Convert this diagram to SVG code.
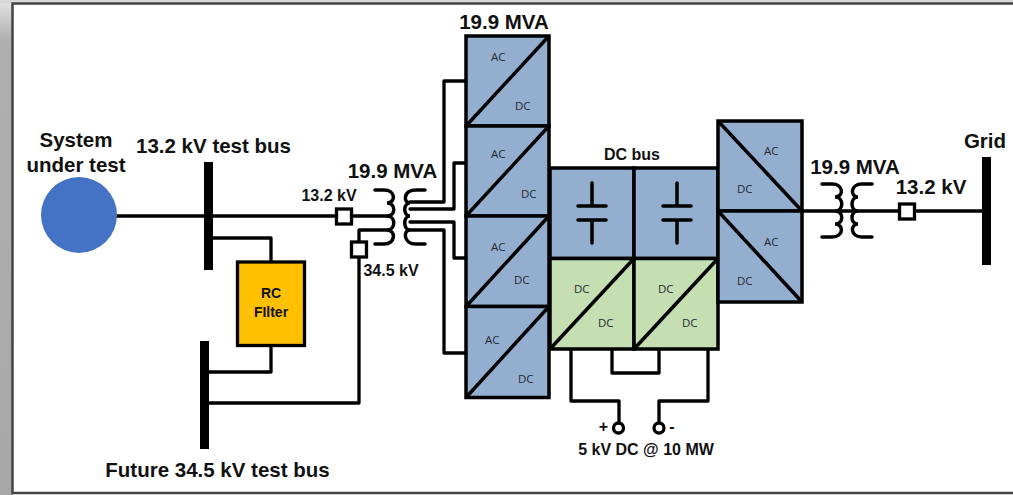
<svg xmlns="http://www.w3.org/2000/svg" width="1013" height="495" viewBox="0 0 1013 495">
<defs>
<linearGradient id="shade" x1="0" x2="0" y1="0" y2="1"><stop offset="0" stop-color="#e4e4e4"/><stop offset="0.08" stop-color="#b0b0b0"/><stop offset="1" stop-color="#a8a8a8"/></linearGradient>
</defs>
<style>
text{font-family:"Liberation Sans",Arial,sans-serif;fill:#111}
.t{font-weight:700;font-size:20.5px}
.m{font-weight:700;font-size:16px}
.s{font-family:"Open Sans","Liberation Sans",sans-serif;font-size:11.5px;fill:#1f2a36}
.w{fill:none;stroke:#000;stroke-width:3.300;stroke-linejoin:round;stroke-linecap:round}
.b{fill:#94aecf;stroke:#000;stroke-width:3.500}
.g{fill:#c5dfb3;stroke:#000;stroke-width:3.500}
.d{stroke:#000;stroke-width:3.500;fill:none}
.c{fill:none;stroke:#000;stroke-width:3.500;stroke-linecap:round}
.sq{fill:#fff;stroke:#000;stroke-width:3.300}
</style>
<rect width="13" height="495" fill="url(#shade)"/>
<rect x="0" y="0" width="1013" height="3" fill="#d8d8d8"/>
<rect x="12.500" y="3.500" width="1002" height="489.500" fill="#fff" stroke="#444" stroke-width="2.500"/>
<g id="connectors">
<path class="w" d="M117 216H388"/>
<path class="w" d="M208 238H271V262"/>
<path class="w" d="M271 345V372H208"/>
<path class="w" d="M208 403H359V230H388"/>
<path class="w" d="M410 202H444V81H466"/>
<path class="w" d="M410 209H454V163H466"/>
<path class="w" d="M410 222H454V258H466"/>
<path class="w" d="M410 230H444V353H466"/>
<path class="w" d="M800 211H985"/>
<path class="w" d="M571 349V401H619V423"/>
<path class="w" d="M612 349V373H659V349"/>
<path class="w" d="M708 349V401H659V423"/>
</g>
<g id="source"><circle cx="79" cy="215" r="38" fill="#4472c4"/><text class="t" x="76" y="147" text-anchor="middle">System</text><text class="t" x="76" y="172" text-anchor="middle">under test</text></g>
<g id="bus-132"><rect x="204" y="162" width="9" height="108" fill="#000"/><text class="t" x="213.500" y="153" text-anchor="middle">13.2 kV test bus</text></g>
<g id="bus-345"><rect x="200" y="341" width="9" height="108" fill="#000"/><text class="t" x="217.500" y="477" text-anchor="middle">Future 34.5 kV test bus</text></g>
<g id="rc-filter"><rect x="237.500" y="262" width="67" height="83.500" fill="#ffc000" stroke="#000" stroke-width="3.300"/><text class="m" style="font-size:14px" x="271" y="298" text-anchor="middle">RC</text><text class="m" style="font-size:14px" x="271" y="317" text-anchor="middle">FIlter</text></g>
<g id="switch-132"><rect class="sq" x="336.500" y="209" width="15" height="15"/><text class="m" x="329" y="201" text-anchor="middle">13.2 kV</text></g>
<g id="switch-345"><rect class="sq" x="351.500" y="242" width="15" height="15"/><text class="m" x="391" y="276" text-anchor="middle">34.5 kV</text></g>
<g id="transformer-left">
<path class="c" d="M375 190H384C396 190 396 203 387 203C396 203 396 216 387 216C396 216 396 230 387 230C396 230 396 244 384 244H375"/>
<path class="c" d="M425 190H416C403 190 403 203 410 203C403 203 403 216 410 216C403 216 403 230 410 230C403 230 403 244 416 244H425"/>
<text class="t" x="392.500" y="178" text-anchor="middle">19.9 MVA</text>
</g>
<g id="conv-ac1"><rect class="b" x="466" y="36" width="83" height="90"/><path class="d" d="M466 126L549 36"/><text class="s" x="491" y="61">AC</text><text class="s" x="515" y="110">DC</text></g>
<g id="conv-ac2"><rect class="b" x="466" y="126" width="83" height="90"/><path class="d" d="M466 216L549 126"/><text class="s" x="491" y="158">AC</text><text class="s" x="521" y="198">DC</text></g>
<g id="conv-ac3"><rect class="b" x="466" y="216" width="83" height="90.500"/><path class="d" d="M466 306.500L549 216"/><text class="s" x="491" y="251">AC</text><text class="s" x="514" y="284">DC</text></g>
<g id="conv-ac4"><rect class="b" x="466" y="306.500" width="83" height="91"/><path class="d" d="M466 397.500L549 306.500"/><text class="s" x="485" y="344">AC</text><text class="s" x="518" y="383">DC</text></g>
<text class="t" x="504" y="29" text-anchor="middle">19.9 MVA</text>
<g id="cap-1"><rect class="b" x="550" y="168" width="84" height="90.500"/><path class="c" d="M592 183V205M578 206H606M578 220H606M592 221V243"/></g>
<g id="cap-2"><rect class="b" x="634" y="168" width="84" height="90.500"/><path class="c" d="M677 183V205M663 206H691M663 220H691M677 221V243"/></g>
<text class="m" x="632" y="160" text-anchor="middle">DC bus</text>
<g id="dcdc-1"><rect class="g" x="550" y="258.500" width="84" height="90.500"/><path class="d" d="M550 349L634 258.500"/><text class="s" x="574" y="293">DC</text><text class="s" x="598" y="327">DC</text></g>
<g id="dcdc-2"><rect class="g" x="634" y="258.500" width="84" height="90.500"/><path class="d" d="M634 349L718 258.500"/><text class="s" x="658" y="293">DC</text><text class="s" x="682" y="327">DC</text></g>
<g id="conv-out1"><rect class="b" x="718" y="121" width="84" height="90"/><path class="d" d="M718 121L802 211"/><text class="s" x="764" y="155">AC</text><text class="s" x="737" y="193">DC</text></g>
<g id="conv-out2"><rect class="b" x="718" y="211" width="84" height="91"/><path class="d" d="M718 211L802 302"/><text class="s" x="764" y="246">AC</text><text class="s" x="737" y="285">DC</text></g>
<g id="transformer-right">
<path class="c" d="M822 184H832C844 184 844 197 835 197C844 197 844 211 835 211C844 211 844 224 835 224C844 224 844 237 832 237H822"/>
<path class="c" d="M872 184H862C850 184 850 197 858 197C850 197 850 211 858 211C850 211 850 224 858 224C850 224 850 237 862 237H872"/>
<text class="t" x="855" y="174" text-anchor="middle">19.9 MVA</text>
</g>
<g id="switch-out"><rect class="sq" x="899.500" y="204" width="15" height="15"/><text class="t" x="931" y="194" text-anchor="middle">13.2 kV</text></g>
<g id="grid"><rect x="982" y="157" width="9" height="108" fill="#000"/><text class="t" x="985" y="148" text-anchor="middle">Grid</text></g>
<g id="terminals"><circle cx="618.500" cy="428" r="5" fill="#fff" stroke="#000" stroke-width="3.300"/><circle cx="659" cy="428" r="5" fill="#fff" stroke="#000" stroke-width="3.300"/><text class="m" x="603.500" y="432" text-anchor="middle">+</text><text class="m" x="672" y="432" text-anchor="middle">-</text><text class="m" x="646" y="455" text-anchor="middle">5 kV DC @ 10 MW</text></g>
</svg>
